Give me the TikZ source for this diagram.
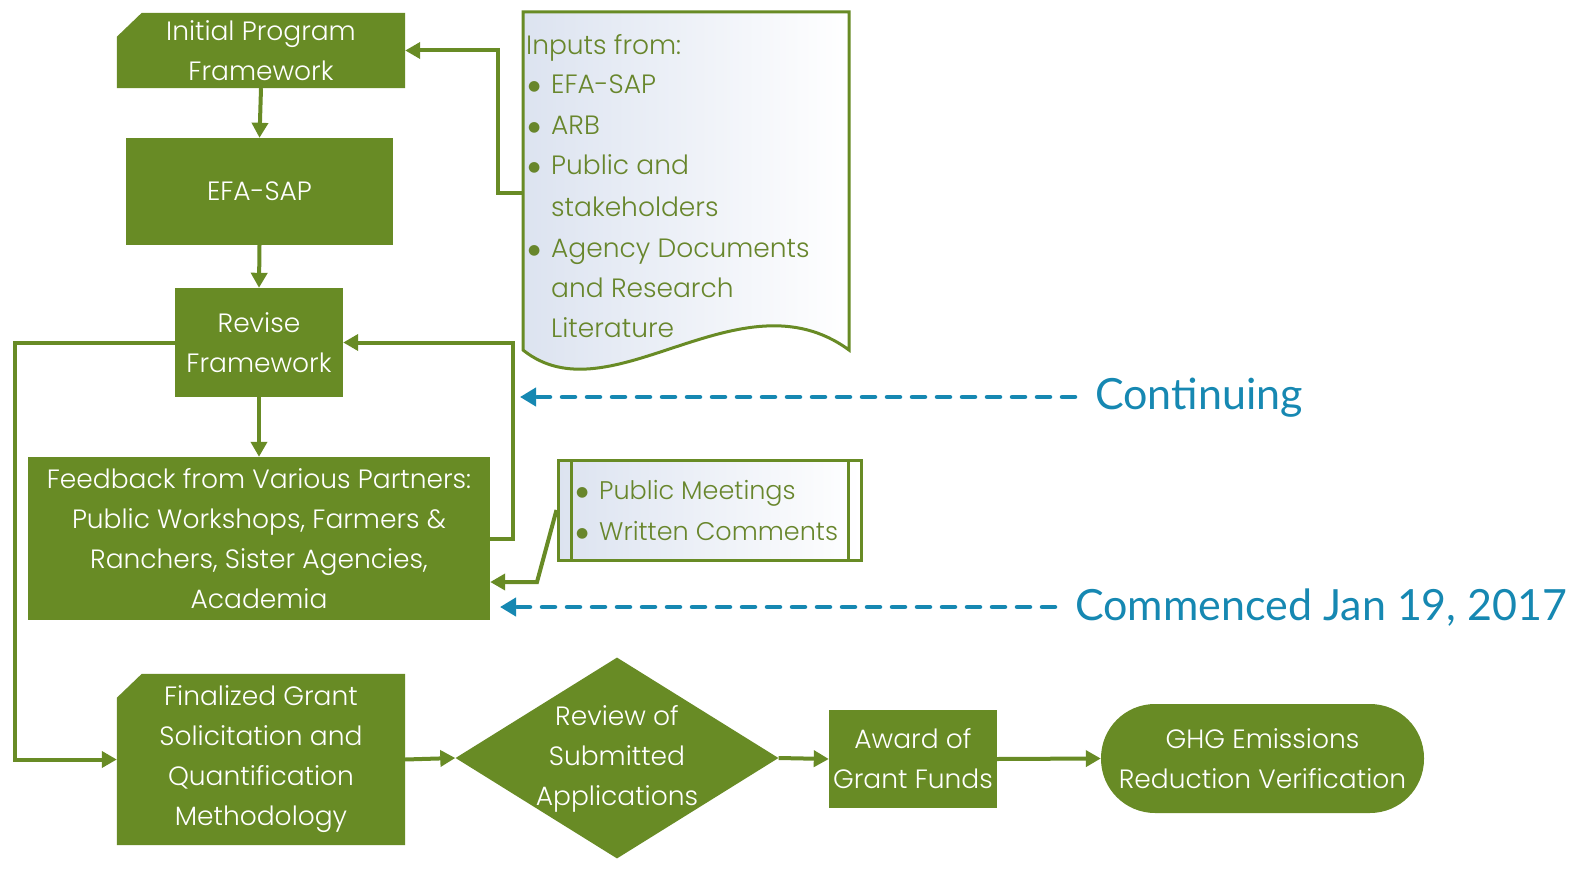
\documentclass[tikz,border=0pt]{standalone}
\usepackage{fontspec}
\setmainfont{Poppins}[UprightFont={* Light}]
\newfontfamily\tagfont{Lato}
\newfontfamily\symfont{DejaVu Sans}
\usetikzlibrary{shapes.geometric,arrows.meta,backgrounds}
\definecolor{gfill}{RGB}{104,139,37}
\definecolor{gtext}{RGB}{104,134,44}
\definecolor{tagblue}{RGB}{22,136,178}
\definecolor{bgblue}{RGB}{220,227,240}
\tikzset{
  boxfont/.style={font=\fontsize{26.5}{40}\selectfont},
  gbox/.style={fill=gfill, draw=none, text=white, align=center, inner sep=0pt, boxfont},
  arr/.style={draw=gfill, line width=4pt, line join=miter,
     -{Triangle[length=15pt,width=16pt]}},
  tagarr/.style={draw=tagblue, line width=4.5pt, line cap=round, dash pattern=on 13pt off 12pt,
     -{Triangle[length=16pt,width=18pt]}},
  tagtext/.style={text=tagblue, font=\tagfont\fontsize{43}{50}\selectfont, inner sep=0pt},
  listline/.style={text=gtext, anchor=base west, inner sep=0pt, boxfont},
  thinbox/.style={draw=gfill, line width=3pt}
}
\newcommand{\blt}{\makebox[23pt][l]{\raisebox{3pt}{\symfont\fontsize{14}{14}\selectfont ●}}}
\begin{document}
\begin{tikzpicture}[x=1pt,y=-1pt]
\useasboundingbox (0,0) rectangle (1593,872);
\begin{scope}[on background layer]
\fill[white] (0,0) rectangle (1593,872);
\end{scope}

% main boxes
\node[gbox, fill=none, minimum width=288pt, minimum height=75pt] (ipf) at (261,50.5) {Initial Program\\Framework};
\node[gbox, minimum width=267pt, minimum height=107pt] (efa) at (259.5,191.5) {EFA-SAP};
\node[gbox, minimum width=168pt, minimum height=109pt] (rev) at (259,342.5) {Revise\\Framework};
\node[gbox, minimum width=462pt, minimum height=163pt] (fb) at (259,538.5)
  {Feedback from Various Partners:\\Public Workshops, Farmers \&\\Ranchers, Sister Agencies,\\Academia};
\node[gbox, fill=none, minimum width=288pt, minimum height=171pt] (fin) at (261,759.5)
  {Finalized Grant\\Solicitation and\\Quantification\\Methodology};
\node[diamond, fill=gfill, draw=none, inner sep=0pt, minimum width=323pt, minimum height=201pt] (dia) at (617,758) {};
\node[text=white, align=center, boxfont, inner sep=0pt] (diatext) at (617,759) {Review of\\Submitted\\Applications};
\node[gbox, minimum width=168pt, minimum height=98pt] (award) at (913,759) {Award of\\Grant Funds};
\node[gbox, rounded corners=54pt, minimum width=323pt, minimum height=109pt] (ghg) at (1262.5,758.5)
  {GHG Emissions\\Reduction Verification};

% snipped corners of the two framework boxes
\begin{scope}[on background layer]
\fill[gfill] ([xshift=25pt]ipf.north west) -- (ipf.north east) -- (ipf.south east)
  -- (ipf.south west) -- ([yshift=-24pt]ipf.north west) -- cycle;
\fill[gfill] ([xshift=25pt]fin.north west) -- (fin.north east) -- (fin.south east)
  -- (fin.south west) -- ([yshift=-24pt]fin.north west) -- cycle;
\end{scope}

% inputs document
\path[thinbox, left color=bgblue, right color=white]
  (523,12) -- (849,12) -- (849,350) .. controls (740,270) and (610,420) .. (523,350) -- cycle;
\node[inner sep=0pt, minimum width=326pt, minimum height=338pt] (inp) at (686,181) {};
\node[listline] (i1) at (526,55) {Inputs from:};
\node[listline] (i2) at (528,94) {\blt EFA-SAP};
\node[listline] (i3) at (528,135) {\blt ARB};
\node[listline] (i4) at (528,175) {\blt Public and};
\node[listline] (i5) at (551,216) {stakeholders};
\node[listline] (i6) at (528,257) {\blt Agency Documents};
\node[listline] (i7) at (551,297) {and Research};
\node[listline] (i8) at (551,337) {Literature};

% public meetings box (predefined process)
\node[thinbox, left color=bgblue, right color=white, minimum width=303pt, minimum height=100pt, inner sep=0pt] (pm) at (709.5,510) {};
\draw[thinbox] (571,460) -- (571,560) (848,460) -- (848,560);
\node[listline, font=\fontsize{25.5}{40}\selectfont] (p1) at (576,499) {\blt Public Meetings};
\node[listline, font=\fontsize{25.5}{40}\selectfont] (p2) at (576,540) {\blt Written Comments};

% connectors
\draw[arr] ([yshift=-12pt]inp.west) -- ++(-25,0) |- (ipf.east);
\draw[arr] (ipf.south) -- (efa.north);
\draw[arr] (efa.south) -- (rev.north);
\draw[arr] (rev.south) -- (fb.north);
\draw[arr] (fb.east) -- ++(23,0) |- (rev.east);
\draw[arr] (rev.west) -- ++(-160,0) |- (fin.west);
\coordinate (pmbend) at (537,582);
\draw[arr] (pm.west) -- (pmbend) -- (pmbend -| fb.east);
\draw[arr] (fin.east) -- (dia.west);
\draw[arr] (dia.east) -- (award.west);
\draw[arr] (award.east) -- (ghg.west);

% time tags
\node[tagtext, anchor=west] (cont) at (1095,398) {Continuing};
\coordinate (conttip) at (520,397);
\draw[tagarr] ([xshift=-20pt,yshift=1pt]cont.west) -- (conttip);
\node[tagtext, anchor=west] (comm) at (1075,608) {Commenced Jan 19, 2017};
\coordinate (commtip) at (500,607);
\draw[tagarr] ([xshift=-20pt,yshift=1pt]comm.west) -- (commtip);
\end{tikzpicture}
\end{document}
